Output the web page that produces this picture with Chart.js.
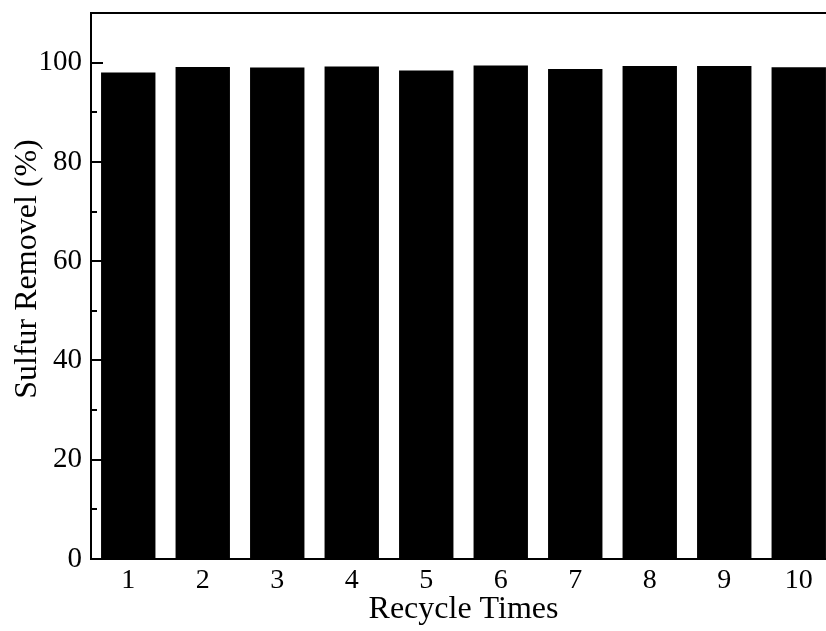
<!DOCTYPE html>
<html>
<head>
<meta charset="utf-8">
<script src="https://cdn.jsdelivr.net/npm/chart.js@4.4.0/dist/chart.umd.min.js"></script>
<style>
  html, body { margin: 0; padding: 0; background: #fff; overflow: hidden; }
  #wrap { width: 836px; height: 631px; }
</style>
</head>
<body>
<div id="wrap"><canvas id="myChart" width="836" height="631"></canvas></div>
<script>
// Dados
const recycleTimes = ['1', '2', '3', '4', '5', '6', '7', '8', '9', '10'];
const sulfurRemoval = [98.0, 99.1, 99.0, 99.2, 98.4, 99.4, 98.7, 99.3, 99.3, 99.05];
const yMajorTicks = [0, 20, 40, 60, 80, 100];
const yMinorTicks = [10, 30, 50, 70, 90];

const serif = "'Liberation Serif', 'Times New Roman', serif";

// moldura e ticks para dentro (estilo Origin)
const frameTicks = {
    id: 'frameTicks',
    afterDraw(chart) {
        const { ctx, chartArea: a, scales } = chart;
        const y = scales.y;
        ctx.save();
        ctx.strokeStyle = '#000';
        ctx.lineWidth = 2;
        ctx.strokeRect(a.left, a.top, a.right - a.left, a.bottom - a.top);
        ctx.beginPath();
        yMajorTicks.forEach(v => {
            const py = Math.round(y.getPixelForValue(v));
            ctx.moveTo(a.left, py);
            ctx.lineTo(a.left + 12, py);
        });
        yMinorTicks.forEach(v => {
            const py = Math.round(y.getPixelForValue(v));
            ctx.moveTo(a.left, py);
            ctx.lineTo(a.left + 6, py);
        });
        ctx.stroke();
        // título do eixo y, um pouco acima do centro como no original
        ctx.translate(28, 269);
        ctx.rotate(-Math.PI / 2);
        ctx.fillStyle = '#000';
        ctx.font = '32px ' + serif;
        ctx.textAlign = 'center';
        ctx.textBaseline = 'middle';
        ctx.fillText('Sulfur Removel (%)', 0, 0);
        ctx.restore();
    }
};

const ctx = document.getElementById('myChart').getContext('2d');
const myChart = new Chart(ctx, {
    type: 'bar',
    data: {
        labels: recycleTimes,
        datasets: [{
            label: 'Sulfur Removel (%)',
            data: sulfurRemoval,
            backgroundColor: '#000',
            borderWidth: 0,
            barPercentage: 0.73,
            categoryPercentage: 1
        }]
    },
    options: {
        responsive: false,
        animation: false,
        layout: { padding: { top: 13, left: 0, right: 0, bottom: 0 } },
        scales: {
            x: {
                grid: { display: false, drawTicks: false },
                border: { display: false },
                ticks: {
                    color: '#000',
                    padding: 5,
                    font: { family: serif, size: 28 }
                },
                title: {
                    display: true,
                    text: 'Recycle Times',
                    color: '#000',
                    padding: { top: 0, bottom: 2 },
                    font: { family: serif, size: 32 }
                },
                afterFit(scale) { scale.height = 72; }
            },
            y: {
                min: 0,
                max: 110,
                grid: { display: false, drawTicks: false },
                border: { display: false },
                ticks: {
                    stepSize: 10,
                    color: '#000',
                    padding: 9,
                    font: { family: serif, size: 29 },
                    callback: function(v) {
                        return yMajorTicks.includes(v) ? v : '';
                    }
                },
                afterFit(scale) {
                    scale.width = 91;
                    scale.paddingTop = 0;
                    scale.paddingBottom = 0;
                }
            }
        },
        plugins: {
            legend: { display: false },
            tooltip: { enabled: false }
        }
    },
    plugins: [frameTicks]
});
</script>
</body>
</html>
